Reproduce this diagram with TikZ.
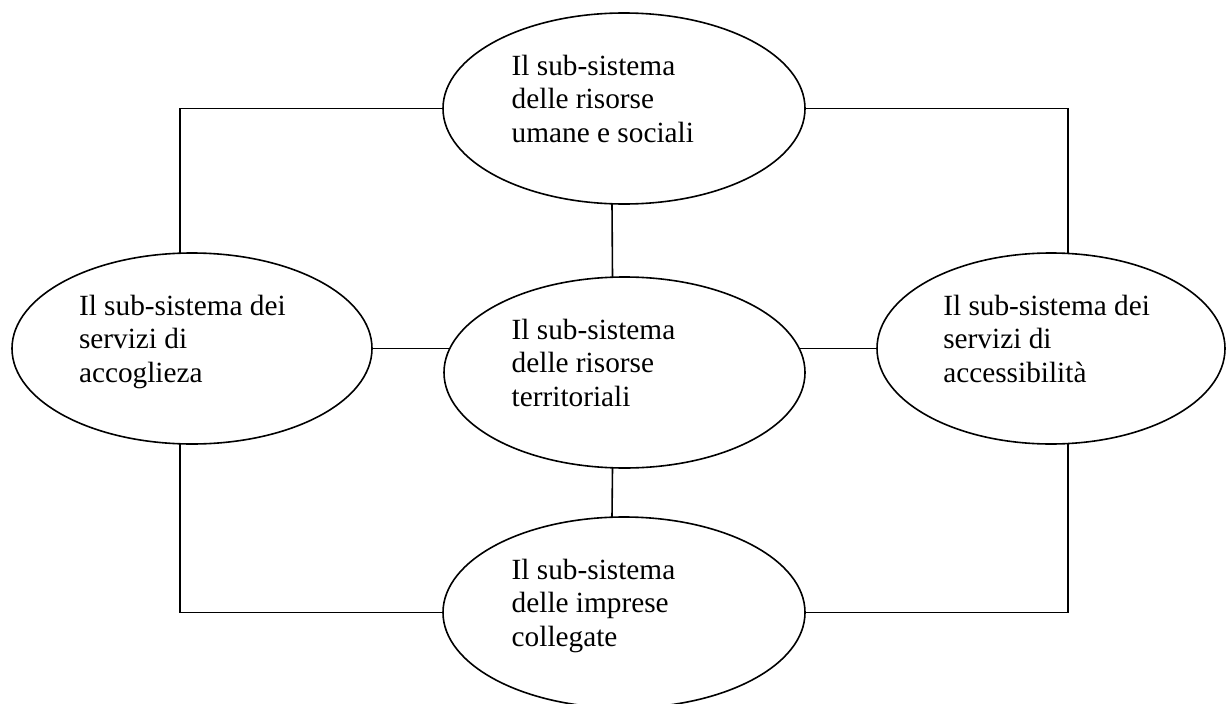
\documentclass[tikz,border=0pt]{standalone}
\usepackage{fontspec}
\setmainfont{Liberation Serif}
\usetikzlibrary{shapes.geometric}
\begin{document}
\begin{tikzpicture}[x=1pt,y=-1pt,
  bub/.style={draw, ellipse, line width=1.6pt, minimum width=#1, minimum height=191pt, inner sep=0pt, outer sep=0pt},
  conn/.style={draw, line width=1.6pt},
  txt/.style={anchor=north west, inner sep=0pt, outer sep=0pt, align=left, font=\fontsize{29.3pt}{33.5pt}\selectfont}]
\useasboundingbox (0,0) rectangle (1226,704);
\clip (0,0) rectangle (1226,704);
% ellipses
\node[bub=362pt] (top) at (624,108.5) {};
\node[bub=360pt] (left) at (192,348.5) {};
\node[bub=361pt] (mid) at (624.5,372.5) {};
\node[bub=348pt] (right) at (1051,348.5) {};
\node[bub=362pt] (bot) at (624,612.5) {};
% texts
\node[txt] (ttop) at (511.7,55) {Il sub-sistema\\delle risorse\\umane e sociali};
\node[txt] (tleft) at (79,295) {Il sub-sistema dei\\servizi di\\accoglieza};
\node[txt] (tmid) at (511.7,319) {Il sub-sistema\\delle risorse\\territoriali};
\node[txt] (tright) at (943.3,295) {Il sub-sistema dei\\servizi di\\accessibilità};
\node[txt] (tbot) at (511.7,559) {Il sub-sistema\\delle imprese\\collegate};
% connectors
\draw[conn] ([xshift=-12pt]top.south) -- ([xshift=-12pt]mid.north);
\draw[conn] ([xshift=-12pt]mid.south) -- ([xshift=-12pt]bot.north);
\draw[conn] (left.east) -- (left.east -| mid.172);
\draw[conn] (mid.8 |- right.west) -- (right.west);
\draw[conn] (top.west) -| ([xshift=-12pt]left.north);
\draw[conn] (top.east) -| ([xshift=17pt]right.north);
\draw[conn] ([xshift=-12pt]left.south) |- (bot.west);
\draw[conn] ([xshift=17pt]right.south) |- (bot.east);
\end{tikzpicture}
\end{document}
